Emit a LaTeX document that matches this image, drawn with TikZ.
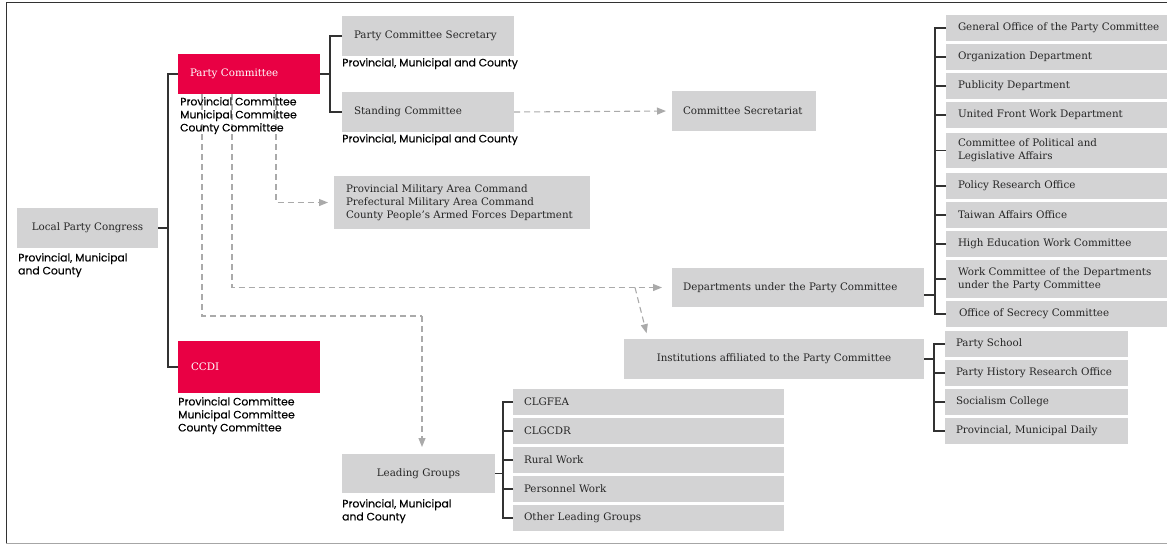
\documentclass[tikz,border=0pt]{standalone}
\usepackage{fontspec}
\setmainfont{DejaVu Serif}
\newfontfamily\lblfont[FakeBold=0.3]{Poppins}
\usetikzlibrary{arrows.meta}
\definecolor{boxgray}{RGB}{211,211,212}
\definecolor{partyred}{RGB}{233,0,68}
\definecolor{boxtext}{RGB}{38,38,38}
\definecolor{dashgray}{RGB}{170,170,170}
\definecolor{linedark}{RGB}{50,50,50}
\newcommand\tp[1][12]{\hspace*{#1pt}}
\tikzset{
  gbox/.style={fill=boxgray, draw=none, inner ysep=0pt, outer sep=0pt, text=boxtext,
    font=\fontsize{10.3}{13}\selectfont},
  rbox/.style={gbox, fill=partyred, text=white},
  lbox/.style 2 args={gbox, anchor=north west, minimum width=#1, minimum height=#2,
    text width=#1, inner xsep=0pt, align=left},
  cbox/.style 2 args={gbox, anchor=north west, minimum width=#1, minimum height=#2, align=center, inner xsep=0pt},
  lbl/.style={anchor=north west, inner sep=0pt, align=left, text=black,
    font=\lblfont\fontsize{10.8}{13}\selectfont},
  conn/.style={draw=linedark, line width=1.1pt},
  dashconn/.style={draw=dashgray, line width=1.1pt, dash pattern=on 6pt off 4pt,
    -{Triangle[length=9pt,width=7pt,fill=dashgray]}},
  dashplain/.style={draw=dashgray, line width=1.1pt, dash pattern=on 6pt off 4pt}
}
\begin{document}
\begin{tikzpicture}[x=1pt,y=-1pt]
\useasboundingbox (0,0) rectangle (1167,544);
% frame
\draw[draw=linedark, line width=1pt] (1167,2) -- (6,2) -- (6,543);
\draw[draw=gray!70, line width=1pt] (6,543) -- (1167,543);

% left column
\node[cbox={141pt}{40pt}] (lpc) at (17,208) {Local Party Congress};
\node[lbox={142pt}{40pt}, rbox] (pc) at (178,54) {\tp Party Committee};
\node[lbox={142pt}{52pt}, rbox] (ccdi) at (178,341) {\tp[13]CCDI};

% second column
\node[lbox={172pt}{40pt}] (pcs) at (342,16) {\tp Party Committee Secretary};
\node[lbox={172pt}{40pt}] (sc) at (342,92) {\tp Standing Committee};
\node[lbox={256pt}{53pt}] (mil) at (334,176) {\tp Provincial Military Area Command\\\tp Prefectural Military Area Command\\\tp County People's Armed Forces Department};
\node[cbox={153pt}{39pt}] (lg) at (342,454) {Leading Groups};

% leading group subs
\foreach \n/\y/\t in {lg1/389/CLGFEA, lg2/418/CLGCDR, lg3/447/Rural Work, lg4/476/Personnel Work, lg5/505/Other Leading Groups}{
  \node[lbox={271pt}{26pt}] (\n) at (513,\y) {\tp[11]\t};
}

% third column
\node[lbox={144pt}{40pt}] (cs) at (672,91) {\tp[11]Committee Secretariat};
\node[lbox={252pt}{39pt}] (dep) at (672,268) {\tp[11]Departments under the Party Committee};
\node[cbox={300pt}{40pt}] (inst) at (624,339) {Institutions affiliated to the Party Committee};

% right column
\node[lbox={221pt}{26pt}] (r1) at (946,15) {\tp General Office of the Party Committee};
\node[lbox={221pt}{26pt}] (r2) at (946,44) {\tp Organization Department};
\node[lbox={221pt}{26pt}] (r3) at (946,73) {\tp Publicity Department};
\node[lbox={221pt}{26pt}] (r4) at (946,102) {\tp United Front Work Department};
\node[lbox={221pt}{35pt}] (r5) at (946,133) {\tp Committee of Political and\\\tp Legislative Affairs};
\node[lbox={221pt}{26pt}] (r6) at (946,173) {\tp Policy Research Office};
\node[lbox={221pt}{26pt}] (r7) at (946,202) {\tp Taiwan Affairs Office};
\node[lbox={221pt}{26pt}] (r8) at (946,231) {\tp High Education Work Committee};
\node[lbox={221pt}{38pt}] (r9) at (946,260) {\tp Work Committee of the Departments\\\tp under the Party Committee};
\node[lbox={221pt}{26pt}] (r10) at (946,301) {\tp[13]Office of Secrecy Committee};

\node[lbox={183pt}{26pt}] (s1) at (945,331) {\tp[11]Party School};
\node[lbox={183pt}{26pt}] (s2) at (945,360) {\tp[11]Party History Research Office};
\node[lbox={183pt}{26pt}] (s3) at (945,389) {\tp[11]Socialism College};
\node[lbox={183pt}{26pt}] (s4) at (945,418) {\tp[11]Provincial, Municipal Daily};

% solid connectors
\coordinate (j1) at (168,228);
\draw[conn] (lpc.east) -- (j1);
\draw[conn] (pc.west) -| (j1) |- (ccdi.west);

\coordinate (j2) at (330,74);
\draw[conn] (pc.east) -- (j2);
\draw[conn] (pcs.west) -| (j2) |- (sc.west);

\coordinate (j3) at (935,295);
\draw[conn] ([yshift=-7.5pt]dep.east) -- (j3);
\draw[conn] (r1.west) -| (j3) |- (r10.west);
\foreach \n in {r2,r3,r4,r5,r6,r7,r8,r9}{\draw[conn] (\n.west) -- (\n.west -| j3);}

\coordinate (j4) at (934,359);
\draw[conn] (inst.east) -- (j4);
\draw[conn] (s1.west) -| (j4) |- (s4.west);
\foreach \n in {s2,s3}{\draw[conn] (\n.west) -- (\n.west -| j4);}

\coordinate (j5) at (503,473.5);
\draw[conn] (lg.east) -- (j5);
\draw[conn] (lg1.west) -| (j5) |- (lg5.west);
\foreach \n in {lg2,lg3,lg4}{\draw[conn] (\n.west) -- (\n.west -| j5);}

% dashed connectors
\draw[dashconn, shorten >=6pt] (sc.east) -- (cs.west);
\draw[dashconn, shorten >=6pt] ([xshift=27pt]pc.south) |- (mil.west);
\coordinate (br) at (635,287.5);
\draw[dashconn, shorten >=10pt] ([xshift=-17pt]pc.south) |- (dep.west);
\draw[dashconn, shorten >=6pt] (br) -- ([xshift=-126pt]inst.north);
\coordinate (lgbend) at (422,316);
\draw[dashplain] ([xshift=-47pt]pc.south) |- (lgbend);
\draw[dashconn, shorten >=7pt] (lgbend) -- ([xshift=3.5pt]lg.north);

% labels (drawn over the dashed lines)
\node[lbl] (lpcl) at (18,253) {Provincial, Municipal\\and County};
\node[lbl] (pcl) at (180,97) {Provincial Committee\\Municipal Committee\\County Committee};
\node[lbl] (ccdil) at (178,397) {Provincial Committee\\Municipal Committee\\County Committee};
\node[lbl] (pcsl) at (342,58) {Provincial, Municipal and County};
\node[lbl] (scl) at (342,134) {Provincial, Municipal and County};
\node[lbl] (lgl) at (342,499) {Provincial, Municipal\\and County};
\end{tikzpicture}
\end{document}
